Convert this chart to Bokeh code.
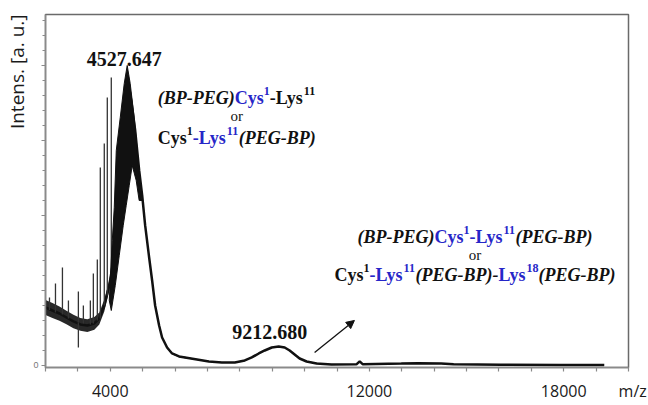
from bokeh.plotting import figure
from bokeh.models import Range1d, FixedTicker, Title, Arrow, NormalHead, ColumnDataSource
from bokeh.core.properties import value
from bokeh.embed import file_html
from bokeh.resources import INLINE

# ---------------- data ----------------
mz = [2000, 2215, 2431, 2646, 2862, 3077, 3292, 3508, 3662, 3815, 3969, 4123, 4277, 4400,
      4523, 4646, 4769, 4892, 4985, 5077, 5200, 5292, 5385, 5508, 5600, 5754, 5908, 6123,
      6308, 6677, 7046, 7446, 7846, 8154, 8369, 8585, 8769, 8985, 9200, 9385, 9538, 9692,
      9846, 10062, 10369, 10831, 11600, 11700, 11800, 12985, 13500, 14215, 14600, 16062,
      17908, 19138, 19250]
intensity = [773, 733, 693, 640, 587, 547, 533, 560, 627, 800, 1067, 1467, 2200, 3000,
             3867, 3533, 3133, 2600, 2267, 1867, 1440, 1133, 800, 533, 373, 240, 160, 120,
             107, 80, 53, 40, 40, 67, 107, 160, 200, 240, 253, 240, 200, 147,
             93, 53, 27, 13, 15, 55, 15, 25, 30, 25, 15, 10,
             8, 8, 5]
noise_hw = [100, 100, 95, 90, 90, 85, 85, 85, 80, 80, 70, 60, 40, 30,
            20, 20, 20, 20, 20, 15, 15, 15, 15, 15, 12, 10, 10, 10,
            10, 8, 8, 8, 8, 8, 8, 8, 8, 8, 8, 8, 8, 8,
            8, 8, 8, 5, 5, 5, 5, 5, 5, 5, 5, 5,
            5, 5, 5]

# isolated spikes (m/z, low, high)
spike_mz = [2123, 2308, 2523, 2708, 3015, 3015, 3169, 3385, 3477, 3600, 3692, 3815, 3908, 4031]
spike_lo = [740, 707, 680, 627, 573, 240, 560, 547, 560, 600, 627, 800, 933, 1000]
spike_hi = [907, 1093, 1307, 867, 987, 573, 800, 867, 1227, 1413, 2640, 2960, 3573, 3840]

# outline of the dense oligomer region around the main peak
dense_mz = [3969, 4062, 4123, 4185, 4308, 4431, 4523, 4615, 4738, 4831, 4923, 4985,
            4892, 4800, 4677, 4585, 4492, 4400, 4277, 4154, 4031]
dense_int = [867, 1667, 2107, 2867, 3307, 3760, 4000, 3760, 3307, 2867, 2400, 2200,
             2200, 2467, 2667, 2400, 2133, 1867, 1467, 1067, 733]

peak_labels = ["4527.647", "9212.680"]
xtick_labels = {4000: "4000", 12000: "12000", 18000: "18000", 20000: "\u00a0\u00a0m/z"}
y_label = "Intens. [a. u.]"

assert len(mz) == len(intensity) == len(noise_hw)

BLUE = "#2626c8"
BLACK = "#111111"
AXIS = "#8a8a8a"

# ---------------- figure ----------------
p = figure(width=648, height=405, output_backend="svg", toolbar_location=None,
           x_range=Range1d(2000, 20000), y_range=Range1d(-27, 4680),
           min_border_left=43, min_border_right=20, min_border_top=14, min_border_bottom=38)
p.grid.visible = False
p.background_fill_color = "white"
p.border_fill_color = "white"
p.outline_line_color = "#6a6a6a"
p.outline_line_width = 1.5

# x axis
xa = p.xaxis[0]
xticks = list(range(2000, 20001, 1000))
xa.ticker = FixedTicker(ticks=xticks, minor_ticks=[])
xa.major_label_overrides = {t: xtick_labels.get(t, "") for t in xticks}
xa.major_label_text_font = "Open Sans"
xa.major_label_text_font_size = "16px"
xa.major_label_text_color = "#1a1a1a"
xa.major_label_standoff = 8
xa.major_tick_out = 4
xa.major_tick_in = 0
xa.axis_line_color = AXIS
xa.axis_line_width = 1.5
xa.major_tick_line_color = AXIS
xa.major_tick_line_width = 1.2

# y axis
ya = p.yaxis[0]
ya.ticker = FixedTicker(ticks=[0, 1000, 2000, 3000, 4000], minor_ticks=list(range(0, 4601, 200)))
ya.major_label_overrides = {1000: "", 2000: "", 3000: "", 4000: ""}
ya.major_label_text_font_size = "9px"
ya.major_label_text_color = "#777777"
ya.major_label_standoff = 3
ya.major_tick_out = 4
ya.major_tick_in = 0
ya.minor_tick_out = 3
ya.minor_tick_in = 0
ya.axis_line_color = AXIS
ya.axis_line_width = 1.5
ya.major_tick_line_color = AXIS
ya.minor_tick_line_color = AXIS

p.add_layout(Title(text=y_label, align="right", text_font="Open Sans",
                   text_font_size="19px", text_font_style="normal",
                   text_color="#1a1a1a", standoff=2), "left")

# ---------------- spectrum ----------------
lower = [i - h for i, h in zip(intensity, noise_hw)]
upper = [i + h for i, h in zip(intensity, noise_hw)]
p.varea(x=mz, y1=lower, y2=upper, fill_color=BLACK, fill_alpha=0.9)
p.line(mz, intensity, line_color=BLACK, line_width=2.5)
p.segment(x0=spike_mz, y0=spike_lo, x1=spike_mz, y1=spike_hi, line_color="#333333", line_width=1.3)
p.patch(dense_mz, dense_int, fill_color=BLACK, line_color=BLACK, line_width=1)

# peak labels
p.text(x=[4431, 8923], y=[4093, 453], text=peak_labels, text_align="center",
       text_baseline="alphabetic", text_font=value("Liberation Serif"),
       text_font_style="bold", text_font_size="20px", text_color=BLACK)

# ---------------- rich annotation texts ----------------
W_B = {'C': 0.722, 'y': 0.5, 's': 0.389, 'L': 0.667, '-': 0.333, '1': 0.5, '8': 0.5,
       '(': 0.333, ')': 0.333, 'B': 0.667, 'P': 0.611, 'E': 0.667, 'G': 0.778}
W_BI = {'(': 0.333, ')': 0.333, 'B': 0.667, 'P': 0.611, 'E': 0.667, 'G': 0.722, '-': 0.333}

MAIN, SUP, RISE = 18, 12, 7

def seg_width(text, style, sup):
    tbl = W_BI if style == "bold italic" else W_B
    return sum(tbl[c] for c in text) * (SUP if sup else MAIN)

groups = {}

def add_line(segs, cx, cy):
    total = sum(seg_width(t, s, u) for t, s, c, u in segs)
    off = -total / 2.0
    for t, s, c, u in segs:
        g = groups.setdefault((s, u), dict(x=[], y=[], text=[], color=[], xo=[], yo=[]))
        g["x"].append(cx); g["y"].append(cy); g["text"].append(t); g["color"].append(c)
        g["xo"].append(off); g["yo"].append(-RISE if u else 0)
        off += seg_width(t, s, u)

B, BI = "bold", "bold italic"
ann1_l1 = [("(BP-PEG)", BI, BLACK, False), ("Cys", B, BLUE, False), ("1", B, BLUE, True),
           ("-Lys", B, BLACK, False), ("11", B, BLACK, True)]
ann1_l3 = [("Cys", B, BLACK, False), ("1", B, BLACK, True), ("-Lys", B, BLUE, False),
           ("11", B, BLUE, True), ("(PEG-BP)", BI, BLACK, False)]
ann2_l1 = [("(BP-PEG)", BI, BLACK, False), ("Cys", B, BLUE, False), ("1", B, BLUE, True),
           ("-Lys", B, BLUE, False), ("11", B, BLUE, True), ("(PEG-BP)", BI, BLACK, False)]
ann2_l3 = [("Cys", B, BLACK, False), ("1", B, BLACK, True), ("-Lys", B, BLUE, False),
           ("11", B, BLUE, True), ("(PEG-BP)-", BI, BLACK, False), ("Lys", B, BLUE, False),
           ("18", B, BLUE, True), ("(PEG-BP)", BI, BLACK, False)]

add_line(ann1_l1, 7908, 3573)
add_line(ann1_l3, 7908, 3027)
add_line(ann2_l1, 15262, 1707)
add_line(ann2_l3, 15262, 1200)

for (style, sup), g in groups.items():
    src = ColumnDataSource(g)
    p.text(x="x", y="y", text="text", source=src, x_offset="xo", y_offset="yo",
           text_align="left", text_baseline="alphabetic",
           text_font=value("Liberation Serif"), text_font_style=style,
           text_font_size=f"{SUP if sup else MAIN}px", text_color="color")

p.text(x=[7908, 15262], y=[3320, 1467], text=["or", "or"], text_align="center",
       text_baseline="alphabetic", text_font=value("Liberation Serif"),
       text_font_size="15px", text_color=BLACK)

# arrow
p.add_layout(Arrow(end=NormalHead(size=8, fill_color=BLACK, line_color=BLACK),
                   x_start=10308, y_start=173, x_end=11538, y_end=600,
                   line_color=BLACK, line_width=1.3))

open("out.html", "w").write(file_html(p, INLINE))
